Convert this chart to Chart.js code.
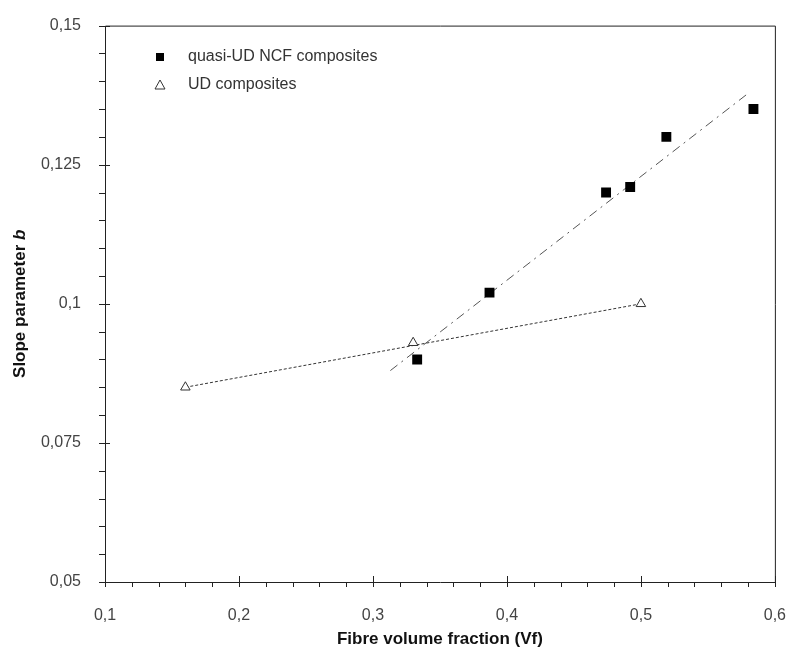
<!DOCTYPE html>
<html lang="en">
  <head>
    <meta charset="utf-8">
    <title>Slope parameter b vs fibre volume fraction</title>
    <script src="https://cdn.jsdelivr.net/npm/chart.js"></script>
    <style>
      body { margin: 0; background: #fff; }
    </style>
  </head>
  <body>
    <canvas id="myChart" width="802" height="651"></canvas>
  </body>

  <script>
    // values
    var ncfVf = [0.333, 0.387, 0.474, 0.492, 0.519, 0.584];
    var ncfB  = [0.090, 0.102, 0.120, 0.121, 0.130, 0.135];
    var udVf  = [0.16, 0.33, 0.50];
    var udB   = [0.085, 0.093, 0.100];
    // fitted lines (end points)
    var ncfFitVf = [0.313, 0.581];
    var ncfFitB  = [0.088, 0.138];
    var udFitVf  = [0.16, 0.50];
    var udFitB   = [0.085, 0.100];

    var xTicks = [0.1, 0.2, 0.3, 0.4, 0.5, 0.6];
    var xTickLabels = ['0,1', '0,2', '0,3', '0,4', '0,5', '0,6'];
    var yTicks = [0.05, 0.075, 0.1, 0.125, 0.15];
    var yTickLabels = ['0,05', '0,075', '0,1', '0,125', '0,15'];

    var seriesNames = ['quasi-UD NCF composites', 'UD composites'];

    function pts(xs, ys) {
        return xs.map((x, i) => ({ x: x, y: ys[i] }));
    }
    function labelFor(v, ticks, labels) {
        for (var i = 0; i < ticks.length; i++) {
            if (Math.abs(ticks[i] - v) < 1e-6) return labels[i];
        }
        return '';
    }

    const font = "'Liberation Sans', Arial, sans-serif";

    // axes, ticks, frame, legend and y title
    const decor = {
        id: 'decor',
        beforeDatasetsDraw(chart) {
            const ctx = chart.ctx, a = chart.chartArea;
            const xs = chart.scales.x, ys = chart.scales.y;
            ctx.save();
            ctx.strokeStyle = '#222';
            ctx.lineWidth = 1;
            ctx.beginPath();
            ctx.rect(a.left + 0.5, a.top + 0.5, a.right - a.left, a.bottom - a.top);
            ctx.stroke();
            ctx.beginPath();
            // x ticks: minor every 0.02 outside, major every 0.1 crossing
            for (var i = 0; i <= 25; i++) {
                var v = 0.1 + i * 0.02;
                var px = Math.round(xs.getPixelForValue(v)) + 0.5;
                var major = i % 5 === 0;
                ctx.moveTo(px, a.bottom + (major ? -6 : 0));
                ctx.lineTo(px, a.bottom + 5);
            }
            // y ticks: minor every 0.005 outside, major every 0.025 crossing
            for (var j = 0; j <= 20; j++) {
                var w = 0.05 + j * 0.005;
                var py = Math.round(ys.getPixelForValue(w)) + 0.5;
                var maj = j % 5 === 0;
                ctx.moveTo(a.left - 6, py);
                ctx.lineTo(a.left + (maj ? 5 : 0), py);
            }
            ctx.stroke();

            // legend
            var lx = 160, ly = 57;
            ctx.fillStyle = '#000';
            ctx.fillRect(lx - 4, ly - 4, 8, 8);
            ctx.beginPath();
            ctx.moveTo(lx, ly + 28 - 5);
            ctx.lineTo(lx + 5, ly + 28 + 4);
            ctx.lineTo(lx - 5, ly + 28 + 4);
            ctx.closePath();
            ctx.fillStyle = '#fff';
            ctx.fill();
            ctx.strokeStyle = '#333';
            ctx.stroke();
            ctx.fillStyle = '#333';
            ctx.font = '16px ' + font;
            ctx.textBaseline = 'middle';
            ctx.textAlign = 'left';
            ctx.fillText(seriesNames[0], 188, ly);
            ctx.fillText(seriesNames[1], 188, ly + 28);

            // y title with italic b
            ctx.translate(20, (a.top + a.bottom) / 2);
            ctx.rotate(-Math.PI / 2);
            ctx.fillStyle = '#111';
            ctx.font = 'bold 17px ' + font;
            var t1 = 'Slope parameter ';
            var w1 = ctx.measureText(t1).width;
            ctx.font = 'italic bold 17px ' + font;
            var w2 = ctx.measureText('b').width;
            var sx = -(w1 + w2) / 2;
            ctx.font = 'bold 17px ' + font;
            ctx.fillText(t1, sx, 0);
            ctx.font = 'italic bold 17px ' + font;
            ctx.fillText('b', sx + w1, 0);
            ctx.restore();
        }
    };

    const ctx = document.getElementById('myChart').getContext('2d');
    const myChart = new Chart(ctx, {
        type: 'scatter',
        data: {
            datasets: [
                {
                    label: seriesNames[0],
                    data: pts(ncfVf, ncfB),
                    pointStyle: 'rect',
                    pointRadius: 7,
                    backgroundColor: '#000',
                    borderColor: '#000',
                    borderWidth: 0
                },
                {
                    label: seriesNames[1],
                    data: pts(udVf, udB),
                    pointStyle: 'triangle',
                    pointRadius: 5.5,
                    backgroundColor: '#fff',
                    borderColor: '#333',
                    borderWidth: 1
                },
                {
                    label: 'NCF fit',
                    data: pts(ncfFitVf, ncfFitB),
                    showLine: true,
                    pointRadius: 0,
                    borderColor: '#555',
                    borderWidth: 1,
                    borderDash: [9, 5, 2, 5]
                },
                {
                    label: 'UD fit',
                    data: pts(udFitVf, udFitB),
                    showLine: true,
                    pointRadius: 0,
                    borderColor: '#333',
                    borderWidth: 1,
                    borderDash: [3, 2]
                }
            ]
        },
        options: {
            responsive: false,
            animation: false,
            layout: { padding: { left: 0, top: 22, right: 14, bottom: 0 } },
            plugins: {
                legend: { display: false },
                tooltip: { enabled: false }
            },
            scales: {
                x: {
                    type: 'linear',
                    min: 0.1,
                    max: 0.6,
                    afterBuildTicks: (s) => { s.ticks = xTicks.map(v => ({ value: v })); },
                    afterFit: (s) => { s.height = 69; },
                    grid: { display: false },
                    border: { display: false },
                    ticks: {
                        padding: 16,
                        color: '#444',
                        font: { family: font, size: 16 },
                        callback: (v) => labelFor(v, xTicks, xTickLabels)
                    },
                    title: {
                        display: true,
                        text: 'Fibre volume fraction (Vf)',
                        color: '#111',
                        font: { family: font, size: 17, weight: 'bold' },
                        padding: { top: 0, bottom: 1 }
                    }
                },
                y: {
                    type: 'linear',
                    min: 0.05,
                    max: 0.15,
                    afterBuildTicks: (s) => { s.ticks = yTicks.map(v => ({ value: v })); },
                    afterFit: (s) => { s.width = 105; },
                    grid: { display: false },
                    border: { display: false },
                    ticks: {
                        padding: 16,
                        color: '#444',
                        font: { family: font, size: 16 },
                        callback: (v) => labelFor(v, yTicks, yTickLabels)
                    }
                }
            }
        },
        plugins: [decor]
    });
    </script>
</html>
